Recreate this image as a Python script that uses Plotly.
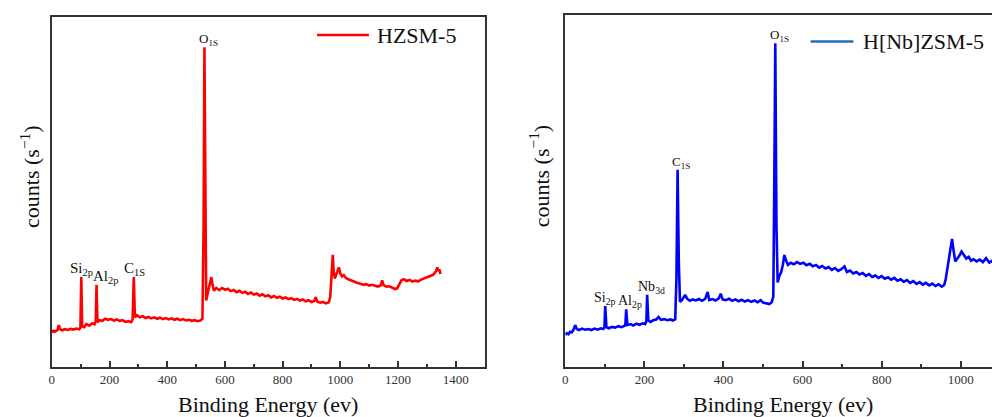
import plotly.graph_objects as go

# ---- HZSM-5 survey spectrum (binding energy in eV, counts in arbitrary units) ----
hzsm_ev = [0, 5, 10, 15, 20, 24, 28, 35, 45, 55, 65, 75, 85, 95, 99, 102, 105, 112, 120, 130,
           140, 148, 152, 155, 158, 165, 175, 185, 195, 205, 215, 225, 235, 245, 255, 265, 275,
           280, 284, 288, 295, 305, 315, 325, 335, 345, 355, 365, 375, 385, 395, 405, 415, 425,
           435, 445, 455, 465, 475, 485, 495, 505, 515, 522, 526, 529, 532, 535, 540, 545, 550,
           553, 557, 562, 570, 580, 590, 600, 610, 620, 630, 640, 650, 660, 670, 680, 690, 700,
           710, 720, 730, 740, 750, 760, 770, 780, 790, 800, 810, 820, 830, 840, 850, 860, 870,
           880, 890, 900, 910, 915, 920, 930, 940, 950, 960, 965, 968, 971, 974, 977, 981, 986,
           990, 995, 1000, 1006, 1012, 1020, 1030, 1040, 1050, 1060, 1070, 1080, 1090, 1100,
           1110, 1120, 1130, 1140, 1145, 1150, 1160, 1170, 1180, 1190, 1197, 1205, 1212, 1220,
           1230, 1240, 1250, 1260, 1270, 1280, 1290, 1300, 1310, 1320, 1327, 1332, 1336, 1340,
           1344, 1347]
hzsm_counts = [10.0, 10.4, 10.1, 10.3, 10.6, 12.0, 10.9, 10.5, 10.8, 10.6, 10.9, 10.7, 11.0,
               10.8, 11.2, 25.7, 11.6, 11.4, 12.3, 11.8, 12.5, 12.2, 13.0, 23.5, 12.8, 13.4,
               13.2, 13.8, 13.5, 13.7, 13.3, 13.6, 13.2, 13.4, 12.9, 13.1, 12.8, 13.6, 25.7,
               14.2, 14.8, 14.2, 14.5, 14.0, 14.3, 13.9, 14.2, 13.8, 14.1, 13.7, 14.0, 13.6,
               13.9, 13.5, 13.8, 13.4, 13.7, 13.3, 13.5, 13.2, 13.4, 13.1, 13.3, 13.8, 40.0,
               91.4, 45.0, 19.0, 21.0, 22.5, 24.0, 25.7, 23.5, 21.8, 22.6, 22.0, 22.6, 22.1,
               22.4, 21.7, 22.0, 21.4, 21.8, 21.2, 21.5, 20.9, 21.3, 20.7, 21.0, 20.4, 20.8,
               20.2, 20.5, 19.9, 20.3, 19.8, 20.1, 19.6, 19.9, 19.4, 19.7, 19.2, 19.5, 19.0,
               19.3, 18.8, 19.1, 18.6, 18.9, 20.0, 18.7, 18.4, 18.6, 18.2, 18.5, 20.0, 24.0,
               28.0, 32.1, 27.0, 25.3, 26.5, 27.5, 28.5, 26.8, 25.9, 26.3, 25.4, 25.0, 24.6,
               24.3, 24.0, 23.8, 23.5, 23.7, 23.3, 23.5, 23.2, 23.0, 23.3, 24.8, 23.4, 23.0,
               23.1, 22.6, 22.3, 22.5, 24.0, 24.8, 25.1, 24.6, 24.9, 24.4, 24.7, 24.5, 25.0,
               25.3, 25.6, 25.9, 26.3, 26.8, 27.5, 28.5, 27.4, 27.9, 26.6]

# ---- H[Nb]ZSM-5 survey spectrum ----
hnb_ev = [0, 4, 8, 12, 16, 20, 25, 29, 35, 42, 50, 58, 66, 74, 82, 90, 96, 99, 101, 104, 110,
          118, 126, 134, 142, 150, 152, 154, 157, 165, 172, 180, 188, 196, 202, 205, 207, 210,
          216, 222, 230, 236, 242, 250, 258, 266, 272, 278, 281, 284, 287, 290, 295, 300, 303,
          308, 315, 322, 330, 338, 346, 354, 360, 364, 372, 380, 388, 393, 398, 406, 414, 422,
          430, 438, 446, 454, 462, 470, 478, 486, 494, 500, 508, 516, 522, 526, 528, 531, 534,
          537, 541, 546, 550, 554, 558, 563, 570, 578, 586, 594, 602, 610, 618, 626, 634, 642,
          650, 658, 666, 674, 682, 690, 698, 706, 712, 720, 728, 736, 744, 752, 760, 768, 776,
          784, 792, 800, 808, 816, 824, 832, 840, 848, 856, 864, 872, 880, 888, 896, 904, 912,
          920, 928, 936, 944, 952, 958, 962, 966, 970, 974, 978, 982, 986, 990, 996, 1002, 1008,
          1014, 1020, 1026, 1032, 1040, 1048, 1056, 1064, 1072, 1080]
hnb_counts = [9.1, 9.6, 9.3, 10.0, 9.8, 10.4, 11.9, 10.8, 10.5, 10.9, 10.6, 10.8, 10.5, 10.9,
              10.6, 11.0, 10.8, 11.2, 17.3, 11.3, 11.0, 11.4, 11.2, 11.6, 11.3, 11.7, 12.2,
              16.4, 11.9, 12.2, 11.8, 12.3, 12.0, 12.4, 12.2, 13.0, 20.5, 13.2, 12.8, 13.3,
              13.5, 14.2, 13.4, 13.6, 13.3, 13.5, 13.2, 13.6, 25.0, 56.0, 30.0, 18.5, 19.0,
              20.0, 20.5, 19.4, 18.8, 19.2, 18.9, 19.3, 18.8, 19.4, 21.3, 19.0, 19.3, 18.9,
              19.5, 20.8, 19.2, 19.0, 19.4, 18.8, 19.2, 18.7, 19.1, 18.6, 19.0, 18.5, 18.9,
              18.4, 19.0, 18.3, 18.1, 17.9, 18.4, 20.0, 45.0, 92.0, 40.0, 24.0, 25.8, 27.0,
              29.0, 31.8, 30.3, 29.0, 29.6, 29.2, 29.8, 29.3, 29.6, 28.9, 29.3, 28.6, 29.0,
              28.2, 28.7, 28.0, 28.4, 27.6, 28.1, 27.3, 27.8, 28.6, 27.0, 27.4, 26.6, 27.0,
              26.3, 26.7, 25.9, 26.4, 25.6, 26.0, 25.3, 25.8, 25.1, 25.5, 24.8, 25.3, 24.5,
              24.9, 24.2, 24.7, 23.9, 24.4, 23.6, 24.1, 23.4, 23.9, 23.2, 23.7, 23.0, 23.5,
              22.8, 23.3, 25.0, 28.0, 31.0, 34.0, 36.4, 33.0, 30.0, 30.6, 31.5, 32.8, 31.6,
              30.8, 31.3, 30.2, 30.6, 30.0, 30.5, 29.8, 30.9, 29.7, 30.2]

# ---- peak assignments ----
hzsm_peak_labels = ["Si<sub>2p</sub>", "Al<sub>2p</sub>", "C<sub>1S</sub>", "O<sub>1S</sub>"]
hzsm_peak_ev = [102, 155, 284, 529]
hnb_peak_labels = ["Si<sub>2p</sub>", "Al<sub>2p</sub>", "Nb<sub>3d</sub>", "C<sub>1S</sub>", "O<sub>1S</sub>"]
hnb_peak_ev = [101, 154, 207, 284, 531]

x_ticks = [0, 200, 400, 600, 800, 1000, 1200, 1400]

SERIF = "Liberation Serif, Times New Roman, serif"
AXIS_COL = "#333333"

fig = go.Figure()
fig.add_trace(go.Scatter(x=hzsm_ev, y=hzsm_counts, mode="lines", name="HZSM-5",
                         line=dict(color="#ff0000", width=2.6), xaxis="x", yaxis="y",
                         showlegend=False))
fig.add_trace(go.Scatter(x=hnb_ev, y=hnb_counts, mode="lines", name="H[Nb]ZSM-5",
                         line=dict(color="#0000ff", width=2.6), xaxis="x2", yaxis="y2",
                         showlegend=False))

xaxis_common = dict(
    showline=True, linecolor=AXIS_COL, linewidth=1.5, showgrid=False, zeroline=False,
    ticks="inside", ticklen=6, tickwidth=1.5, tickcolor=AXIS_COL,
    tickmode="array", tickvals=x_ticks, ticktext=[str(t) for t in x_ticks],
    tickfont=dict(family=SERIF, size=13, color="#333333"),
    minor=dict(dtick=100, tick0=0, ticks="inside", ticklen=3, tickwidth=1.5, tickcolor=AXIS_COL),
)
yaxis_common = dict(
    showline=True, linecolor=AXIS_COL, linewidth=1.5, showgrid=False, zeroline=False,
    showticklabels=False, ticks="", range=[0, 100],
)

fig.update_layout(
    width=992, height=417,
    margin=dict(l=0, r=0, t=0, b=0),
    font=dict(family=SERIF, size=13, color="#111111"),
    paper_bgcolor="white", plot_bgcolor="white",
    xaxis=dict(domain=[49 / 992, 483 / 992], range=[0, 1500], mirror=True, anchor="y", **xaxis_common),
    yaxis=dict(domain=[50 / 417, 399.7 / 417], mirror=True, anchor="x", **yaxis_common),
    xaxis2=dict(domain=[564 / 992, 1.0], range=[0, 1079], mirror=True, anchor="y2", **xaxis_common),
    yaxis2=dict(domain=[50 / 417, 402 / 417], mirror=False, anchor="x2", **yaxis_common),
)


def peak_height(ev_list, counts, ev):
    return counts[ev_list.index(ev)]


# peak labels, placed just above each peak
hzsm_shifts = [0, 9, 1, 4]
for lab, ev, dx in zip(hzsm_peak_labels, hzsm_peak_ev, hzsm_shifts):
    fig.add_annotation(x=ev, y=peak_height(hzsm_ev, hzsm_counts, ev), xref="x", yref="y",
                       text=lab, showarrow=False, xanchor="center", yanchor="bottom",
                       xshift=dx, yshift=-3,
                       font=dict(family=SERIF, size=15 if ev != 529 else 13, color="#111111"))

hnb_shifts = [0, 4, 4, 3, 4]
for lab, ev, dx in zip(hnb_peak_labels, hnb_peak_ev, hnb_shifts):
    fig.add_annotation(x=ev, y=peak_height(hnb_ev, hnb_counts, ev), xref="x2", yref="y2",
                       text=lab, showarrow=False, xanchor="center", yanchor="bottom",
                       xshift=dx, yshift=-3,
                       font=dict(family=SERIF, size=14 if ev < 280 else 13, color="#111111"))

# legend entries drawn as a line sample plus a text label
fig.add_shape(type="line", xref="paper", yref="paper", x0=315 / 992, x1=367 / 992,
              y0=(417 - 35) / 417, y1=(417 - 35) / 417, line=dict(color="#ff0000", width=2.5))
fig.add_annotation(x=373 / 992, y=(417 - 35) / 417, xref="paper", yref="paper", text="HZSM-5",
                   showarrow=False, xanchor="left", yanchor="middle",
                   font=dict(family=SERIF, size=22, color="#111111"))
fig.add_shape(type="line", xref="paper", yref="paper", x0=810 / 992, x1=853 / 992,
              y0=(417 - 41.5) / 417, y1=(417 - 41.5) / 417, line=dict(color="#1f6fc0", width=2.5))
fig.add_annotation(x=861 / 992, y=(417 - 41.5) / 417, xref="paper", yref="paper", text="H[Nb]ZSM-5",
                   showarrow=False, xanchor="left", yanchor="middle",
                   font=dict(family=SERIF, size=22, color="#111111"))

# axis titles
for xc in [266 / 992, 782 / 992]:
    fig.add_annotation(x=xc, y=(417 - 404) / 417, xref="paper", yref="paper",
                       text="Binding Energy (ev)", showarrow=False, xanchor="center", yanchor="middle",
                       font=dict(family=SERIF, size=22, color="#111111"))
for xc in [27 / 992, 538 / 992]:
    fig.add_annotation(x=xc, y=(417 - 176) / 417, xref="paper", yref="paper",
                       text="counts (s<sup>\u22121</sup>)", showarrow=False, textangle=-90,
                       xanchor="center", yanchor="middle",
                       font=dict(family=SERIF, size=22, color="#111111"))

fig.write_html("out.html")
